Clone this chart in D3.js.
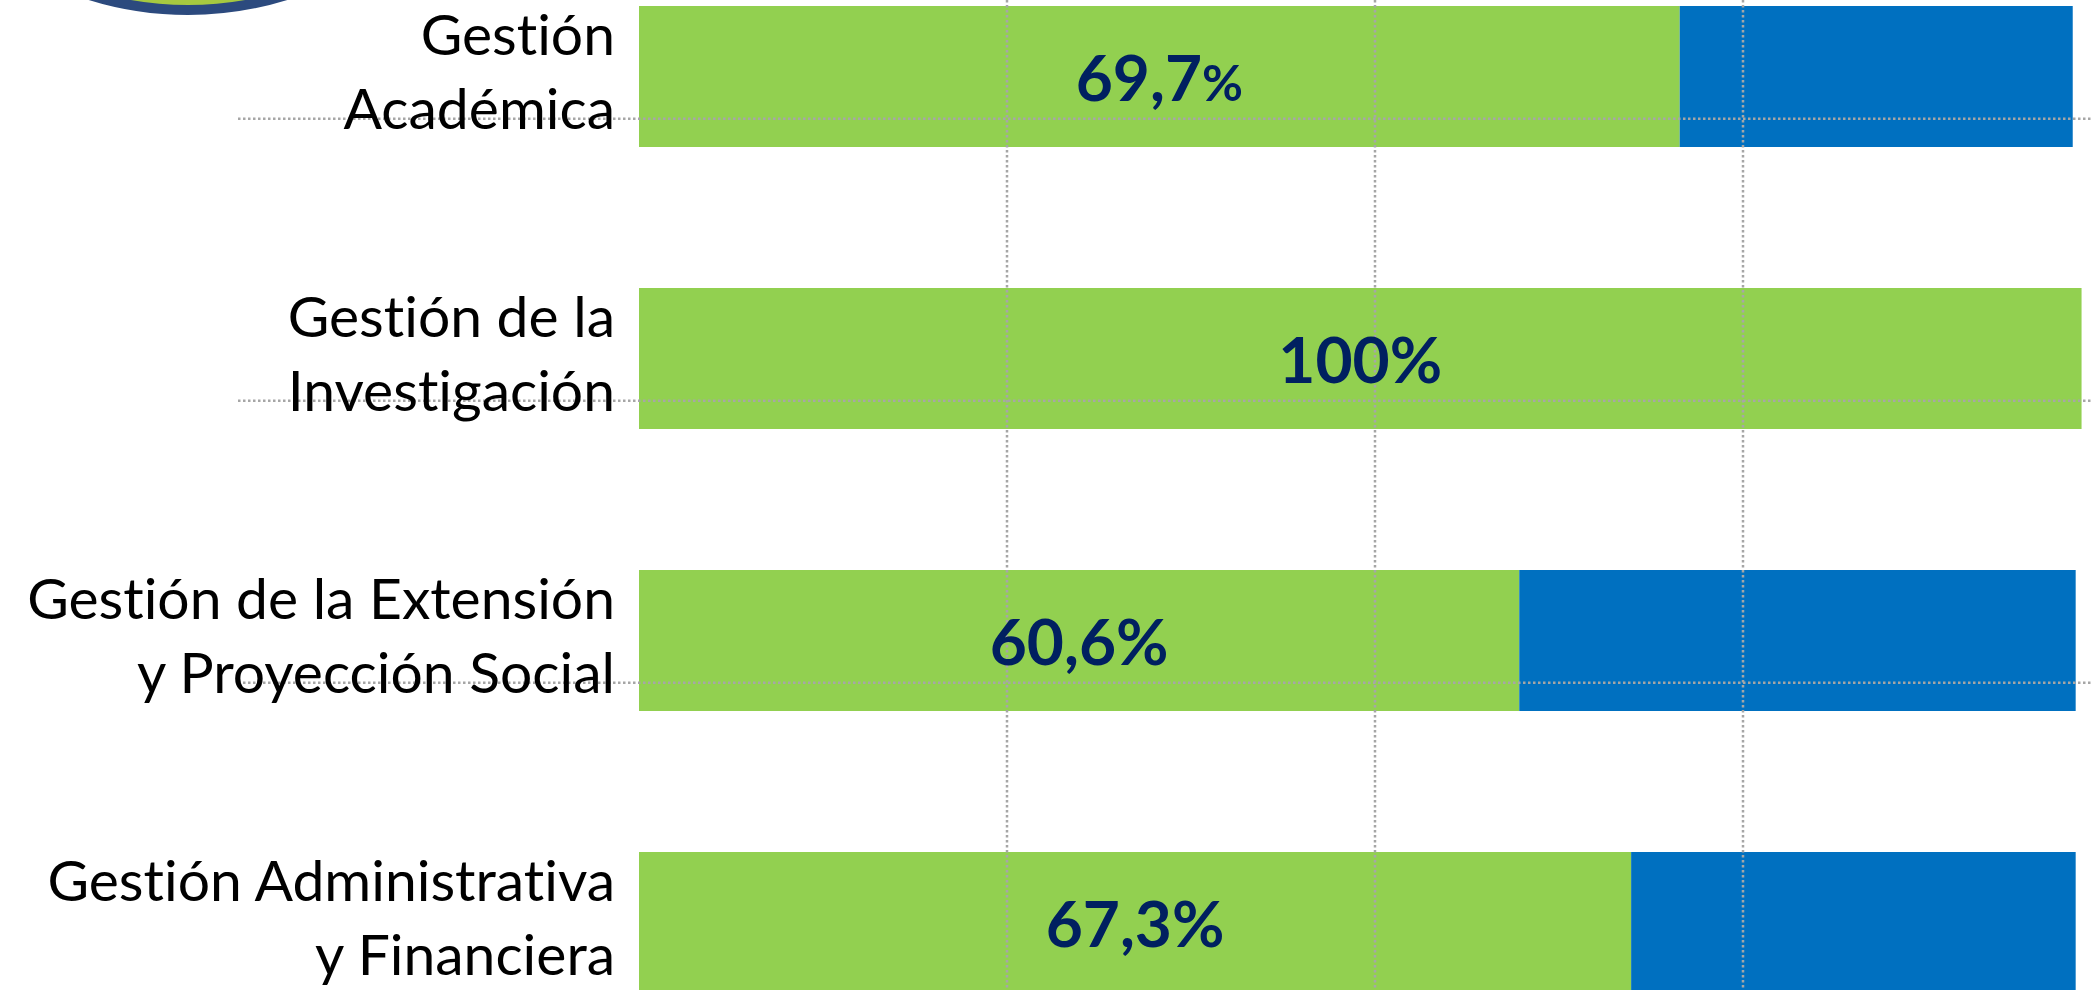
<!DOCTYPE html>
<html>
<head>
<meta charset="utf-8">
<script src="https://cdn.jsdelivr.net/npm/d3@7/dist/d3.min.js"></script>
<style>
    body { margin: 0; background: #ffffff; }
    svg { display: block; }
    text { font-variant-ligatures: none; font-feature-settings: "liga" 0, "clig" 0; }
</style>
</head>
<body>
<svg id="grafico" width="2093" height="990"></svg>
<script>

// categorias (dos lineas por etiqueta)
var categorias = [
    ["Gestión", "Académica"],
    ["Gestión de la", "Investigación"],
    ["Gestión de la Extensión", "y Proyección Social"],
    ["Gestión Administrativa", "y Financiera"]
];

// largo de las barras (%)
var cumple = [70.7, 98.0, 59.8, 67.4];
var noCumple = [26.7, 0, 37.8, 30.2];

// textos dentro de las barras
var etiquetas = ["69,7%", "100%", "60,6%", "67,3%"];

var ticksX = [25, 50, 75];


/**
 * Dibuja las barras apiladas con sus lineas guia
 * @returns {undefined}
 */
function drawGraficoGestion()
{
    var svg = d3.select("#grafico");
    var claves = categorias.map(function(c) { return c.join(" "); });

    var x = d3.scaleLinear()
            .domain([0, 100])
            .range([639, 2111]);

    var y = d3.scaleBand()
            .domain(claves)
            .range([6, 993])
            .paddingInner(0.5)
            .paddingOuter(0);

    // pedazo del logo arriba a la izquierda
    svg.append("circle")
            .attr("cx", 188)
            .attr("cy", -321)
            .attr("r", 331)
            .style("fill", "#a6c940")
            .style("stroke", "#2c4a7e")
            .style("stroke-width", 10);

    // barra verde
    svg.selectAll(".cumple")
            .data(cumple)
            .enter().append("rect")
            .attr("class", "cumple")
            .attr("x", x(0))
            .attr("y", function(d, i) { return y(claves[i]); })
            .attr("width", function(d) { return x(d) - x(0); })
            .attr("height", y.bandwidth())
            .style("fill", "#92d050");

    // barra azul
    svg.selectAll(".nocumple")
            .data(noCumple)
            .enter().append("rect")
            .attr("class", "nocumple")
            .attr("x", function(d, i) { return x(cumple[i]); })
            .attr("y", function(d, i) { return y(claves[i]); })
            .attr("width", function(d, i) { return x(cumple[i] + d) - x(cumple[i]); })
            .attr("height", y.bandwidth())
            .style("fill", "#0070c0");

    // guias verticales punteadas
    svg.selectAll(".guiaX")
            .data(ticksX)
            .enter().append("line")
            .attr("class", "guiaX")
            .attr("x1", function(d) { return x(d); })
            .attr("x2", function(d) { return x(d); })
            .attr("y1", 0)
            .attr("y2", 990)
            .style("stroke", "#a6a6a6")
            .style("stroke-width", 2.5)
            .style("stroke-dasharray", "2.5,2.5");

    // guias horizontales punteadas
    svg.selectAll(".guiaY")
            .data(claves.slice(0, 3))
            .enter().append("line")
            .attr("class", "guiaY")
            .attr("x1", 238)
            .attr("x2", 2093)
            .attr("y1", function(d) { return y(d) + y.bandwidth() * 0.8; })
            .attr("y2", function(d) { return y(d) + y.bandwidth() * 0.8; })
            .style("stroke", "#a6a6a6")
            .style("stroke-width", 2.5)
            .style("stroke-dasharray", "2.5,2.5");

    // nombres de categoria
    var nombres = svg.selectAll(".nombre")
            .data(categorias)
            .enter().append("text")
            .attr("class", "nombre")
            .attr("text-anchor", "end")
            .style("font-family", "Lato, 'Open Sans', sans-serif")
            .style("font-size", "57px")
            .style("fill", "#000000");

    nombres.each(function(d, i) {
        var centro = y(claves[i]) + y.bandwidth() / 2;
        var t = d3.select(this);
        t.append("tspan")
                .attr("x", 615)
                .attr("y", centro - 22)
                .text(d[0]);
        t.append("tspan")
                .attr("x", 615)
                .attr("y", centro + 52)
                .text(d[1]);
    });

    // porcentajes
    var valores = svg.selectAll(".valor")
            .data(etiquetas)
            .enter().append("text")
            .attr("class", "valor")
            .attr("text-anchor", "middle")
            .attr("x", function(d, i) { return (x(0) + x(cumple[i])) / 2; })
            .attr("y", function(d, i) { return y(claves[i]) + y.bandwidth() / 2 + 24; })
            .style("font-family", "Lato, 'Open Sans', sans-serif")
            .style("font-weight", "bold")
            .style("font-size", "64px")
            .style("fill", "#002060");

    valores.each(function(d, i) {
        var t = d3.select(this);
        if (i === 0) {
            // el primero tiene el signo % mas chico
            t.append("tspan").text(d.replace("%", ""));
            t.append("tspan").style("font-size", "50px").text("%");
        } else {
            t.text(d);
        }
    });
}

drawGraficoGestion();

</script>
</body>
</html>
